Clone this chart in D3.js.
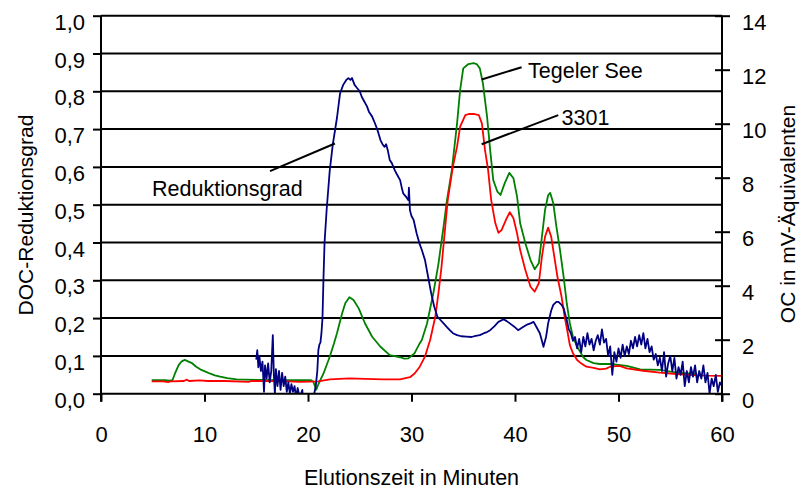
<!DOCTYPE html>
<html>
<head>
<meta charset="utf-8">
<script src="https://cdn.jsdelivr.net/npm/d3@7"></script>
<style>
  html, body { margin: 0; padding: 0; background: #fff; }
  svg { display: block; }
  text { font-family: "Liberation Sans", Arial, sans-serif; fill: #000; }
</style>
</head>
<body>
<svg id="chart" width="801" height="490"></svg>
<script>
// Elution time (minutes) and DOC reduction degree (left axis)
const redTime = [15.0,15.1,15.2,15.3,15.45,15.6,15.75,15.85,16.0,16.15,16.3,16.45,16.6,16.7,16.8,16.9,17.05,17.2,17.35,17.5,17.65,17.8,17.95,18.1,18.25,18.4,18.55,18.7,18.85,19.0,19.2,19.45,19.6,20.3,20.6,20.75,20.9,21.0,21.1,21.2,21.3,21.4,
  21.5,21.6,21.8,22.1,22.4,22.8,23.1,23.4,23.7,23.9,24.1,24.25,24.5,24.7,25.0,25.2,25.4,25.7,25.9,26.2,26.4,26.6,26.8,27.0,27.2,27.4,27.55,27.7,27.9,28.1,28.4,28.6,28.9,29.1,29.2,29.5,29.7,29.75,29.85,30.0,30.2,30.5,30.8,31.0,31.3,31.6,31.9,32.2,32.5,32.8,33.1,33.4,33.7,34.0,34.4,34.8,35.3,35.8,36.2,36.6,37.0,37.3,37.6,38.0,38.4,38.9,39.2,39.5,39.9,40.3,40.7,41.1,41.5,41.8,42.1,42.4,42.6,42.75,43.0,43.2,43.5,43.7,44.0,44.2,44.5,44.7,44.9,45.0,45.2,45.4,
  45.6,45.8,46.0,46.2,46.4,46.6,46.8,47.0,47.2,47.4,47.6,47.8,48.0,48.2,48.4,48.6,48.8,49.0,49.2,49.4,49.6,49.8,50.0,50.2,50.4,50.6,50.8,51.0,51.2,51.4,51.6,51.8,52.0,52.2,52.4,52.6,52.8,53.0,53.2,53.4,53.6,53.8,54.0,54.2,54.4,54.6,54.8,55.0,55.2,55.4,55.6,55.8,56.0,56.2,56.4,56.6,56.8,57.0,57.2,57.4,57.6,57.8,58.0,58.2,58.4,58.6,58.8,59.0,59.2,59.4,59.6,59.8,60.0];
const redGrade = [0.09,0.115,0.07,0.10,0.06,0.085,0.005,0.075,0.04,0.08,0.03,0.06,0.155,0.05,0.0,0.065,0.02,0.06,0.01,0.055,0.02,0.045,0.005,0.03,0.0,0.025,0.005,0.02,-0.01,0.015,-0.01,0.01,-0.04,-0.04,0.0,0.02,0.06,0.115,0.13,0.135,0.16,0.2,
  0.31,0.40,0.486,0.59,0.66,0.73,0.795,0.817,0.83,0.835,0.83,0.835,0.817,0.81,0.80,0.785,0.775,0.76,0.745,0.733,0.72,0.706,0.69,0.671,0.66,0.653,0.66,0.645,0.618,0.61,0.59,0.58,0.565,0.54,0.53,0.52,0.512,0.545,0.485,0.47,0.46,0.424,0.395,0.38,0.354,0.31,0.266,0.23,0.204,0.195,0.186,0.177,0.168,0.16,0.155,0.152,0.151,0.15,0.153,0.155,0.16,0.163,0.168,0.178,0.19,0.197,0.192,0.186,0.178,0.168,0.175,0.182,0.186,0.19,0.175,0.16,0.14,0.124,0.15,0.186,0.22,0.235,0.243,0.243,0.235,0.226,0.205,0.195,0.17,0.16,
  0.14,0.15,0.12,0.145,0.11,0.15,0.125,0.16,0.13,0.145,0.115,0.14,0.155,0.13,0.17,0.135,0.145,0.1,0.125,0.05,0.11,0.085,0.12,0.095,0.13,0.1,0.125,0.105,0.14,0.12,0.15,0.125,0.155,0.13,0.16,0.12,0.145,0.11,0.125,0.09,0.105,0.075,0.095,0.06,0.11,0.045,0.08,0.1,0.06,0.095,0.04,0.07,0.05,0.085,0.02,0.06,0.03,0.07,0.045,0.075,0.03,0.06,0.04,0.075,0.03,0.055,0.0,0.04,0.02,0.05,0.005,0.03,0.02];

// OC signal, Tegeler See (right axis, mV equivalents)
const tegTime = [4.9,5.5,6.2,6.6,6.9,7.15,7.5,7.8,8.1,8.4,8.8,9.2,9.7,10.1,10.5,11.0,11.5,12.2,13.1,14.0,15.4,17,19,20.3,20.5,20.8,21.0,21.5,22.1,22.5,22.8,23.3,23.6,24.0,24.4,24.9,25.5,26.2,27.0,27.9,28.9,29.3,29.7,30.3,30.8,31.0,31.5,32.1,32.6,33.1,33.4,33.9,34.4,34.7,35.0,35.5,36.0,36.3,36.6,36.9,37.3,37.6,37.9,38.3,38.6,39.0,39.45,39.85,40.2,40.5,41.0,41.5,41.9,42.3,42.6,42.9,43.2,43.4,43.7,44.0,44.35,44.7,45.0,45.3,45.6,46.0,46.3,46.6,46.9,47.6,48.2,49.2,50.8,52.1,54.0,55.6,57.5];
const tegOC = [0.5,0.5,0.5,0.48,0.5,0.75,1.06,1.2,1.25,1.2,1.13,1.0,0.88,0.82,0.75,0.68,0.63,0.58,0.53,0.52,0.51,0.5,0.5,0.5,0.45,0.15,0.35,0.75,1.37,1.85,2.24,2.98,3.35,3.57,3.47,3.16,2.61,2.11,1.74,1.43,1.35,1.3,1.31,1.5,1.87,1.99,2.6,3.7,4.8,6.2,7.1,8.29,10.0,11.25,12.05,12.21,12.24,12.21,12.05,11.5,10.26,9.03,7.91,7.48,7.36,7.79,8.18,7.98,7.3,6.31,5.57,4.95,4.61,4.83,5.81,6.8,7.35,7.44,7.05,6.19,5.32,4.33,3.35,2.6,2.11,1.74,1.55,1.35,1.25,1.13,1.1,1.1,1.03,0.9,0.88,0.78,0.73];

// OC signal, sample 3301 (right axis, mV equivalents)
const s3301Time = [4.9,6.0,6.5,6.7,8.0,8.3,8.5,9.5,10.3,12,14.3,14.5,16,18,19.2,21,22.1,24.0,25.5,27.3,28.9,29.85,30.3,30.8,31.3,31.8,32.3,32.6,32.9,33.2,33.5,34.0,34.4,34.7,35.2,35.6,36.0,36.5,36.8,37.1,37.4,37.7,38.1,38.4,38.7,39.2,39.5,39.85,40.2,40.5,41.0,41.5,41.9,42.3,42.6,42.9,43.2,43.5,43.8,44.1,44.5,44.8,45.1,45.3,45.6,46.0,46.3,46.9,47.6,48.2,48.8,49.2,50.1,50.8,52.4,54.0,55.6,57.2,58.5,60];
const s3301OC = [0.46,0.46,0.43,0.46,0.47,0.52,0.47,0.49,0.47,0.47,0.44,0.47,0.47,0.46,0.44,0.46,0.53,0.57,0.55,0.53,0.53,0.61,0.75,1.0,1.37,1.99,2.85,3.72,4.7,5.94,7.17,8.41,9.15,9.89,10.32,10.36,10.36,10.32,10.01,9.03,8.29,7.17,6.31,5.96,6.06,6.5,6.72,6.5,5.94,5.32,4.58,3.96,3.78,4.09,5.07,5.81,6.15,5.81,5.07,4.33,3.59,2.85,2.24,1.8,1.5,1.25,1.15,1.0,0.96,0.9,0.93,1.0,1.03,0.94,0.85,0.78,0.73,0.69,0.67,0.66];

// Axis ticks
const xTicks = [0,10,20,30,40,50,60];
const leftTicks = [0,0.1,0.2,0.3,0.4,0.5,0.6,0.7,0.8,0.9,1.0];
const rightTicks = [0,2,4,6,8,10,12,14];

// Series labels with leader lines: [time, value] for line start, line end, text anchor
const labelText = ["Reduktionsgrad", "Tegeler See", "3301"];
const labelAxis = ["left", "right", "right"];
const labelLineFrom = [[16.33,0.589],[36.78,11.64],[36.78,9.24]];
const labelLineTo = [[22.6,0.662],[40.64,12.09],[44.18,10.32]];
const labelPos = [[4.93,0.523],[41.26,11.69],[44.5,9.95]];

const svg = d3.select("#chart");
const plotLeft = 101, plotRight = 722, plotTop = 15.7, plotBottom = 393.7;

const x = d3.scaleLinear().domain([0,60]).range([plotLeft,plotRight]);
const yL = d3.scaleLinear().domain([0,1]).range([plotBottom,plotTop]);
const yR = d3.scaleLinear().domain([0,14]).range([plotBottom,plotTop]);

const de = d3.formatLocale({decimal: ",", thousands: ".", grouping: [3], currency: ["", " €"]});
const fmt1 = de.format(".1f");

// Horizontal grid lines at the left-axis ticks
svg.append("g").selectAll("line").data(leftTicks.filter(d => d > 0)).join("line")
  .attr("x1", plotLeft).attr("x2", plotRight)
  .attr("y1", d => yL(d)).attr("y2", d => yL(d))
  .attr("stroke", "#000").attr("stroke-width", 2);

// Curves, clipped to the plot area
svg.append("clipPath").attr("id", "plot").append("rect")
  .attr("x", plotLeft).attr("y", plotTop).attr("width", plotRight - plotLeft).attr("height", plotBottom - plotTop);
const curves = svg.append("g").attr("clip-path", "url(#plot)");

const lineL = d3.line().x(d => x(d[0])).y(d => yL(d[1]));
const lineR = d3.line().x(d => x(d[0])).y(d => yR(d[1]));

curves.append("path").datum(d3.zip(tegTime, tegOC)).attr("d", lineR)
  .attr("fill", "none").attr("stroke", "#008000").attr("stroke-width", 1.8).attr("stroke-linejoin", "round");
curves.append("path").datum(d3.zip(s3301Time, s3301OC)).attr("d", lineR)
  .attr("fill", "none").attr("stroke", "#ff0000").attr("stroke-width", 1.8).attr("stroke-linejoin", "round");
curves.append("path").datum(d3.zip(redTime, redGrade)).attr("d", lineL)
  .attr("fill", "none").attr("stroke", "#000080").attr("stroke-width", 1.8).attr("stroke-linejoin", "round");

// Axes
const axisFont = "22px";
const gx = svg.append("g").attr("transform", `translate(0,${plotBottom})`)
  .call(d3.axisBottom(x).tickValues(xTicks).tickSize(8).tickPadding(24).tickFormat(d3.format("d")));
gx.select(".domain").attr("stroke", "#000").attr("stroke-width", 2).attr("d", `M${plotLeft},0H${plotRight}`);
gx.selectAll(".tick line").attr("stroke", "#000").attr("stroke-width", 2);
gx.selectAll(".tick text").attr("font-size", axisFont).attr("font-family", "Liberation Sans, Arial, sans-serif").attr("dy", "0.72em");

const gl = svg.append("g").attr("transform", `translate(${plotLeft},0)`)
  .call(d3.axisLeft(yL).tickValues(leftTicks).tickSize(8).tickPadding(8).tickFormat(fmt1));
gl.select(".domain").attr("stroke", "#000").attr("stroke-width", 2).attr("d", `M0,${plotTop}V${plotBottom + 8}`);
gl.selectAll(".tick line").attr("stroke", "#000").attr("stroke-width", 2);
gl.selectAll(".tick text").attr("font-size", axisFont).attr("font-family", "Liberation Sans, Arial, sans-serif").attr("dy", "0.62em");

const gr = svg.append("g").attr("transform", `translate(${plotRight},0)`)
  .call(d3.axisRight(yR).tickValues(rightTicks).tickSize(8).tickPadding(12).tickFormat(d3.format("d")));
gr.select(".domain").attr("stroke", "#000").attr("stroke-width", 2).attr("d", `M0,${plotTop}V${plotBottom + 8}`);
gr.selectAll(".tick line").attr("stroke", "#000").attr("stroke-width", 2).attr("x1", -7);
gr.selectAll(".tick text").attr("font-size", axisFont).attr("font-family", "Liberation Sans, Arial, sans-serif").attr("dy", "0.62em");

// Axis titles
svg.append("text").attr("x", (plotLeft + plotRight) / 2).attr("y", 485)
  .attr("text-anchor", "middle").attr("font-size", "21.5px").text("Elutionszeit in Minuten");
svg.append("text").attr("transform", `translate(33,215) rotate(-90)`)
  .attr("text-anchor", "middle").attr("font-size", "21px").text("DOC-Reduktionsgrad");
svg.append("text").attr("transform", `translate(795,214) rotate(-90)`)
  .attr("text-anchor", "middle").attr("font-size", "21px").text("OC in mV-Äquivalenten");

// Series labels with leader lines
const yFor = i => labelAxis[i] === "left" ? yL : yR;
labelText.forEach((t, i) => {
  const ys = yFor(i);
  svg.append("line")
    .attr("x1", x(labelLineFrom[i][0])).attr("y1", ys(labelLineFrom[i][1]))
    .attr("x2", x(labelLineTo[i][0])).attr("y2", ys(labelLineTo[i][1]))
    .attr("stroke", "#000").attr("stroke-width", 2);
  svg.append("text").attr("x", x(labelPos[i][0])).attr("y", ys(labelPos[i][1]))
    .attr("font-size", "21.5px").text(t);
});
</script>
</body>
</html>
